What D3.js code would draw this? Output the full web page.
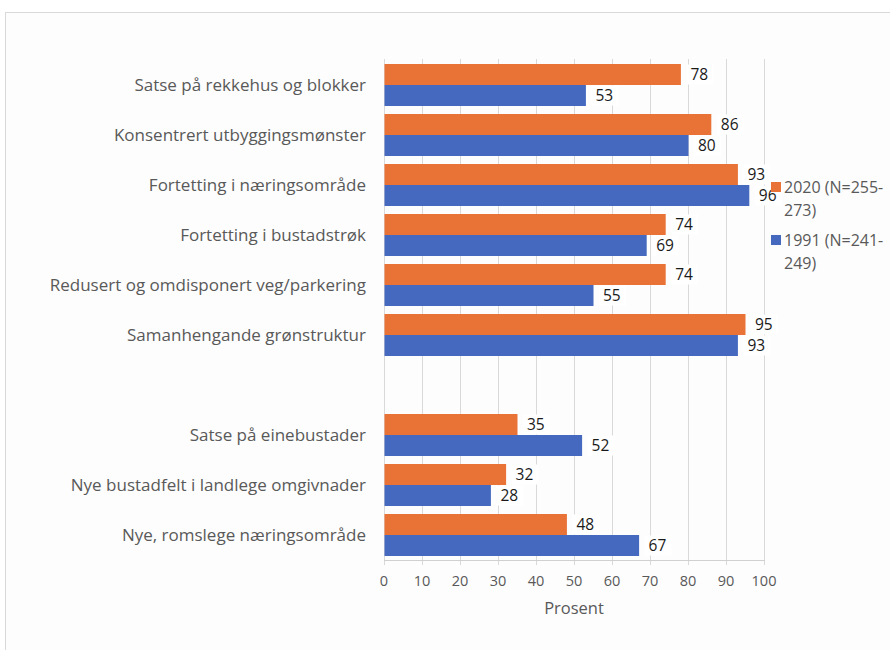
<!DOCTYPE html>
<html><head><meta charset="utf-8">
<script src="https://cdn.jsdelivr.net/npm/d3@7"></script>
<style>
html,body{margin:0;padding:0;background:#fff;}
svg{display:block;}
</style></head>
<body>
<svg id="chart" width="890" height="650"></svg>
<script>
const categories = [
  "Satse på rekkehus og blokker",
  "Konsentrert utbyggingsmønster",
  "Fortetting i næringsområde",
  "Fortetting i bustadstrøk",
  "Redusert og omdisponert veg/parkering",
  "Samanhengande grønstruktur",
  "",
  "Satse på einebustader",
  "Nye bustadfelt i landlege omgivnader",
  "Nye, romslege næringsområde"
];
const values2020 = [78, 86, 93, 74, 74, 95, null, 35, 32, 48];
const values1991 = [53, 80, 96, 69, 55, 93, null, 52, 28, 67];
const seriesNames = ["2020 (N=255-273)", "1991 (N=241-249)"];
const legendLines = [["2020 (N=255-", "273)"], ["1991 (N=241-", "249)"]];
const xTicks = [0,10,20,30,40,50,60,70,80,90,100];
const axisTitle = "Prosent";

const colors = ["#E97236", "#4469BE"];
const font = "'Open Sans', 'Liberation Sans', sans-serif";

const svg = d3.select("#chart");
// frame
svg.append("rect").attr("x",5.5).attr("y",12.5).attr("width",900).attr("height",700)
  .attr("fill","#fdfdfd").attr("stroke","#d9d9d9").attr("stroke-width",1);

const plot = {left:384, right:764, top:59, bottom:560};
const x = d3.scaleLinear().domain([0,100]).range([plot.left, plot.right]);
const y = d3.scaleBand().domain(d3.range(categories.length))
  .range([plot.top+1, plot.bottom]).paddingInner(0.16).paddingOuter(0.08);
const sub = d3.scaleBand().domain([0,1]).range([0, y.bandwidth()]);

// gridlines
svg.append("g").selectAll("line").data(xTicks).join("line")
  .attr("x1", d=>x(d)+0.5).attr("x2", d=>x(d)+0.5)
  .attr("y1", plot.top).attr("y2", plot.bottom+5)
  .attr("stroke","#d9d9d9").attr("stroke-width",1);

// axis line
svg.append("line").attr("x1",plot.left).attr("x2",plot.right+1)
  .attr("y1",plot.bottom+0.5).attr("y2",plot.bottom+0.5).attr("stroke","#d0d0d0");

const series = [values2020, values1991];
series.forEach((vals, si) => {
  const g = svg.append("g");
  const data = vals.map((v,i)=>({v,i})).filter(d=>d.v!=null);
  g.selectAll("rect").data(data).join("rect")
    .attr("x", x(0)+0.5)
    .attr("y", d=>y(d.i)+sub(si))
    .attr("width", d=>x(d.v)-x(0))
    .attr("height", sub.bandwidth())
    .attr("fill", colors[si]);
  const lab = g.selectAll("g.lab").data(data).join("g").attr("class","lab")
    .attr("transform", d=>`translate(${x(d.v)+10},${y(d.i)+sub(si)+sub.bandwidth()/2})`);
  lab.append("rect").attr("x",-4).attr("y",-10).attr("width",27).attr("height",20).attr("fill","#fff");
  lab.append("text").attr("dy","0.35em").attr("font-family",font).attr("font-size",15.5)
    .attr("fill","#1a1a1a").text(d=>d.v);
});

// category labels
svg.append("g").selectAll("text").data(categories).join("text")
  .attr("x", 366).attr("y", (d,i)=>y(i)+y.bandwidth()/2)
  .attr("dy","0.35em").attr("text-anchor","end")
  .attr("font-family",font).attr("font-size",17).attr("fill","#595959")
  .text(d=>d);

// x tick labels
svg.append("g").selectAll("text").data(xTicks).join("text")
  .attr("x", d=>x(d)).attr("y", 581).attr("dy","0.35em").attr("text-anchor","middle")
  .attr("font-family",font).attr("font-size",14.5).attr("fill","#595959")
  .text(d=>d);

svg.append("text").attr("x", x(50)).attr("y", 608).attr("dy","0.35em").attr("text-anchor","middle")
  .attr("font-family",font).attr("font-size",16.5).attr("fill","#595959").text(axisTitle);

// legend
const leg = svg.append("g");
legendLines.forEach((lines, i) => {
  const ly = 187 + i*53;
  leg.append("rect").attr("x",771).attr("y",ly-5).attr("width",10).attr("height",10).attr("fill",colors[i]);
  const t = leg.append("text").attr("x",784).attr("y",ly)
    .attr("font-family",font).attr("font-size",16).attr("fill","#595959");
  lines.forEach((l,k)=>t.append("tspan").attr("x",784).attr("dy", k===0?"0.35em":"1.45em").text(l));
});
</script>
</body></html>
